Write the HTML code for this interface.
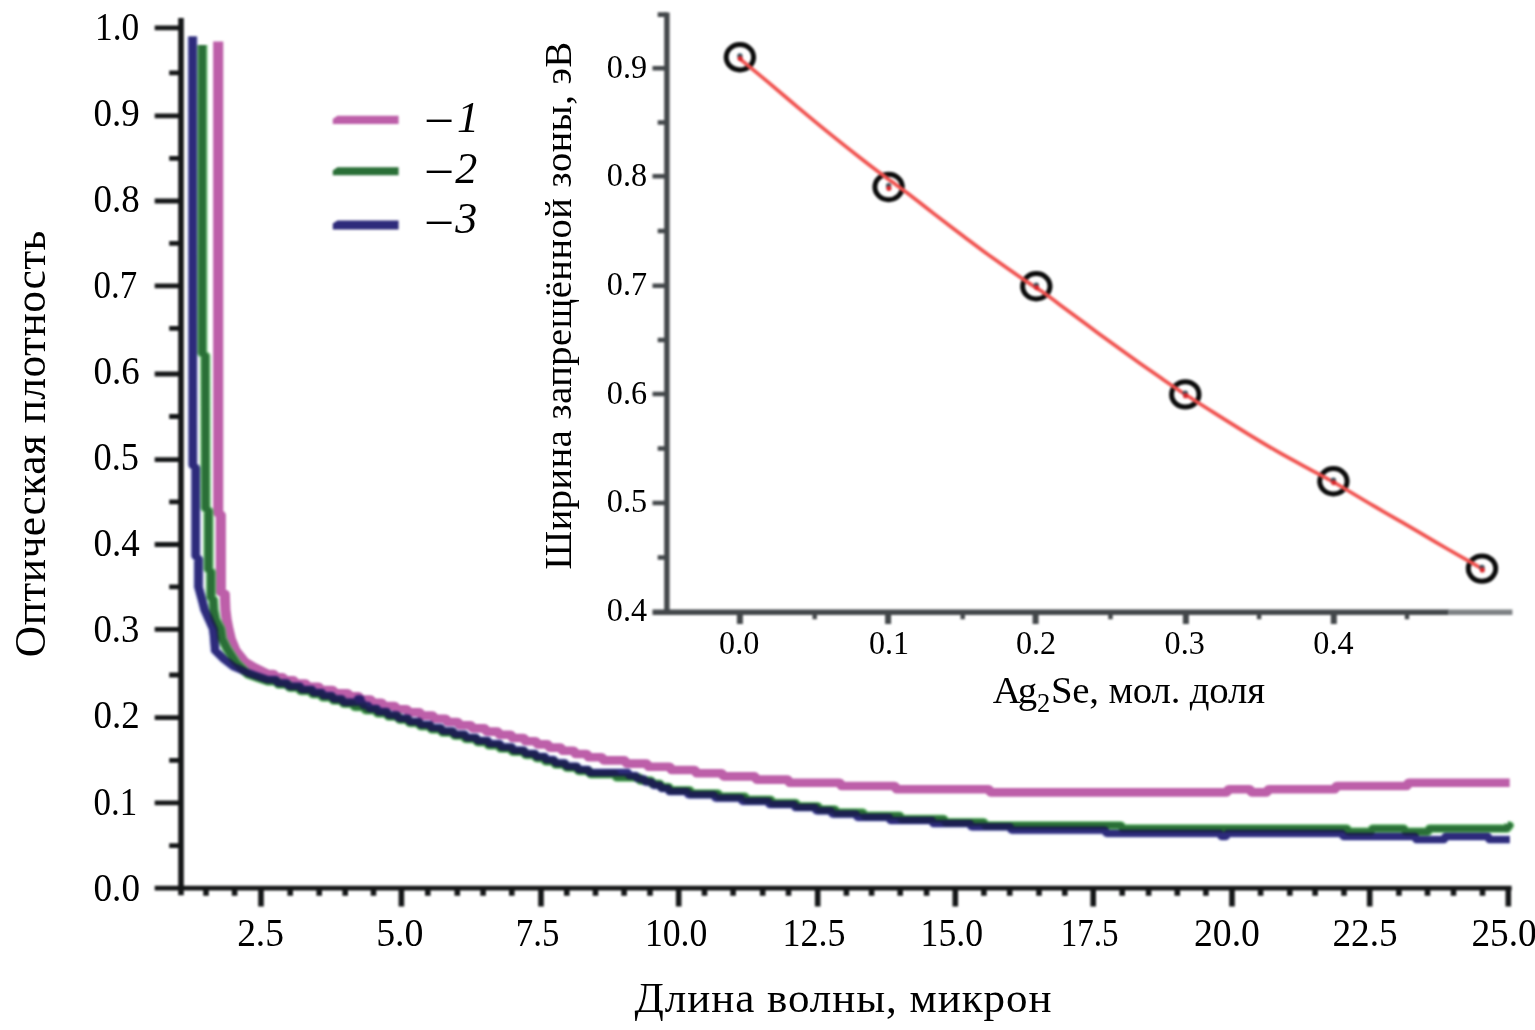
<!DOCTYPE html>
<html lang="ru">
<head>
<meta charset="utf-8">
<title>Оптическая плотность — длина волны</title>
<style>
html,body{margin:0;padding:0;background:#fff;}
body{width:1535px;height:1030px;overflow:hidden;}
svg{display:block;}
text{font-family:'Liberation Serif', 'DejaVu Serif', serif;fill:#000;}
</style>
</head>
<body>
<svg width="1535" height="1030" viewBox="0 0 1535 1030">
<defs>
<filter id="soft" x="-5%" y="-5%" width="110%" height="110%" color-interpolation-filters="sRGB"><feGaussianBlur stdDeviation="0.9"/></filter>
<filter id="soft2" x="-5%" y="-5%" width="110%" height="110%" color-interpolation-filters="sRGB"><feGaussianBlur stdDeviation="0.7"/></filter>
</defs>
<rect width="1535" height="1030" fill="#fff"/>
<g filter="url(#soft)">
<g fill="none" stroke-linejoin="round" stroke-linecap="butt" transform="scale(1.18 1)">
<polyline points="184.92,41.5 184.92,513 187.12,515 187.12,592 190.51,594 190.68,600 191.02,609.7 192.03,619.4 193.64,629.1 195.76,639.5 199.66,650.5 207.12,661.5 214.49,666.8 226.86,674 231.69,674 233.9,677.2 239.32,677.2 241.53,680.4 248.64,680.4 250.85,683.6 258.81,683.6 261.02,686.8 269.83,686.8 272.03,690 281.69,690 283.9,693.2 294.41,693.2 296.61,696.4 303.73,696.4 305.93,699.6 313.9,699.6 316.1,702.8 323.22,702.8 325.42,706 334.24,706 336.44,709.2 344.41,709.2 346.61,712.4 355.42,712.4 357.63,715.6 366.44,715.6 368.64,718.8 377.46,718.8 379.66,722 387.63,722 389.83,725.2 398.64,725.2 400.85,728.4 410.51,728.4 412.71,731.6 421.53,731.6 423.73,734.8 432.54,734.8 434.75,738 443.56,738 445.76,741.2 453.73,741.2 455.93,744.4 463.9,744.4 466.1,747.6 474.92,747.6 477.12,750.8 485.93,750.8 488.14,754 496.95,754 499.15,757.2 509.66,757.2 511.86,760.4 529.15,760.4 531.36,763.6 547.8,763.6 550,766.8 567.29,766.8 569.49,770 588.47,770 590.68,773.2 611.36,773.2 613.56,776.4 639.32,776.4 641.53,779.6 667.29,779.6 669.49,782.8 711.36,782.8 713.56,786 757.97,786 760.17,789.2 837.63,789.2 839.83,792.4 1039.32,792.4 1041.53,789.2 1058.81,789.2 1061.02,792.4 1073.22,792.4 1075.42,789.2 1130.85,789.2 1133.05,786 1191.86,786 1194.07,782.8 1279.41,782.8" stroke="#bd5fa9" stroke-width="8.6"/>
<polyline points="171.44,45 171.44,353 173.98,356 174.24,508 176.69,511 176.69,569 178.81,572 178.81,597 180.76,600 181.19,609.7 182.8,619.4 186.95,629.1 188.14,638.8 192.29,648.5 200,662.5 210.42,674.6 226.86,681.4 234.24,681.4 236.44,684.6 243.56,684.6 245.76,687.8 252.88,687.8 255.08,691 263.05,691 265.25,694.2 271.53,694.2 273.73,697.4 280.85,697.4 283.05,700.6 289.32,700.6 291.53,703.8 298.64,703.8 300.85,707 307.97,707 310.17,710.2 318.14,710.2 320.34,713.4 327.46,713.4 329.66,716.6 336.78,716.6 338.98,719.8 345.25,719.8 347.46,723 354.58,723 356.78,726.2 363.9,726.2 366.1,729.4 373.22,729.4 375.42,732.6 383.39,732.6 385.59,735.8 392.71,735.8 394.92,739 402.88,739 405.08,742.2 412.2,742.2 414.41,745.4 422.37,745.4 424.58,748.6 432.54,748.6 434.75,751.8 443.56,751.8 445.76,755 452.88,755 455.08,758.2 460.51,758.2 462.71,761.4 468.98,761.4 471.19,764.6 478.31,764.6 480.51,767.8 488.47,767.8 490.68,771 498.64,771 500.85,774.2 520.68,774.2 522.88,777.4 541.02,777.4 543.22,780.6 551.19,780.6 553.39,783.8 558.81,783.8 561.02,787 566.44,787 568.64,790.2 584.24,790.2 586.44,793.4 607.97,793.4 610.17,796.6 630.85,796.6 633.05,799.8 652.88,799.8 655.08,803 674.07,803 676.27,806.2 692.71,806.2 694.92,809.4 707.12,809.4 709.32,812.6 730.85,812.6 733.05,815.8 762.2,815.8 764.41,819 799.49,819 801.69,822.2 833.39,822.2 835.59,825.4 949.49,825.4 951.69,828.6 1141.02,828.6 1143.22,831.8 1161.36,831.8 1163.56,828.6 1189.32,828.6 1191.53,831.8 1209.66,831.8 1211.86,828.6 1276.61,828.6 1278.81,825.4 1277.71,825.4" stroke="#4db356" stroke-width="9" opacity="0.75"/>
<polyline points="171.44,45 171.44,353 173.98,356 174.24,508 176.69,511 176.69,569 178.81,572 178.81,597 180.76,600 181.19,609.7 182.8,619.4 186.95,629.1 188.14,638.8 192.29,648.5 200,662.5 210.42,674.6 226.86,681.4 234.24,681.4 236.44,684.6 243.56,684.6 245.76,687.8 252.88,687.8 255.08,691 263.05,691 265.25,694.2 271.53,694.2 273.73,697.4 280.85,697.4 283.05,700.6 289.32,700.6 291.53,703.8 298.64,703.8 300.85,707 307.97,707 310.17,710.2 318.14,710.2 320.34,713.4 327.46,713.4 329.66,716.6 336.78,716.6 338.98,719.8 345.25,719.8 347.46,723 354.58,723 356.78,726.2 363.9,726.2 366.1,729.4 373.22,729.4 375.42,732.6 383.39,732.6 385.59,735.8 392.71,735.8 394.92,739 402.88,739 405.08,742.2 412.2,742.2 414.41,745.4 422.37,745.4 424.58,748.6 432.54,748.6 434.75,751.8 443.56,751.8 445.76,755 452.88,755 455.08,758.2 460.51,758.2 462.71,761.4 468.98,761.4 471.19,764.6 478.31,764.6 480.51,767.8 488.47,767.8 490.68,771 498.64,771 500.85,774.2 520.68,774.2 522.88,777.4 541.02,777.4 543.22,780.6 551.19,780.6 553.39,783.8 558.81,783.8 561.02,787 566.44,787 568.64,790.2 584.24,790.2 586.44,793.4 607.97,793.4 610.17,796.6 630.85,796.6 633.05,799.8 652.88,799.8 655.08,803 674.07,803 676.27,806.2 692.71,806.2 694.92,809.4 707.12,809.4 709.32,812.6 730.85,812.6 733.05,815.8 762.2,815.8 764.41,819 799.49,819 801.69,822.2 833.39,822.2 835.59,825.4 949.49,825.4 951.69,828.6 1141.02,828.6 1143.22,831.8 1161.36,831.8 1163.56,828.6 1189.32,828.6 1191.53,831.8 1209.66,831.8 1211.86,828.6 1276.61,828.6 1278.81,825.4 1277.71,825.4" stroke="#2a6f37" stroke-width="6.4"/>
<g style="mix-blend-mode:multiply"><polyline points="163.22,36.5 163.39,465 165.85,468 165.85,556 168.22,559 168.22,587 171.27,600 173.39,609.7 177.03,619.4 180.76,629.1 181.61,638.8 182.37,650.5 189.83,659.3 198.05,666.8 210.42,673 226.86,679.7 233.39,679.7 235.59,682.9 242.71,682.9 244.92,686.1 253.73,686.1 255.93,689.3 263.9,689.3 266.1,692.5 272.37,692.5 274.58,695.7 280.85,695.7 283.05,698.9 289.32,698.9 291.53,702.1 302.88,702.1 305.08,698.9 303.73,698.9 305.93,702.1 306.27,702.1 308.47,705.3 311.36,705.3 313.56,708.5 318.98,708.5 321.19,711.7 327.46,711.7 329.66,714.9 335.93,714.9 338.14,718.1 345.25,718.1 347.46,721.3 354.58,721.3 356.78,724.5 363.9,724.5 366.1,727.7 373.22,727.7 375.42,730.9 383.39,730.9 385.59,734.1 393.56,734.1 395.76,737.3 402.88,737.3 405.08,740.5 413.05,740.5 415.25,743.7 423.22,743.7 425.42,746.9 433.39,746.9 435.59,750.1 443.56,750.1 445.76,753.3 452.88,753.3 455.08,756.5 461.36,756.5 463.56,759.7 468.98,759.7 471.19,762.9 478.31,762.9 480.51,766.1 488.47,766.1 490.68,769.3 497.8,769.3 500,772.5 531.69,772.5 533.9,775.7 538.47,775.7 540.68,778.9 545.25,778.9 547.46,782.1 552.03,782.1 554.24,785.3 558.81,785.3 561.02,788.5 565.59,788.5 567.8,791.7 581.69,791.7 583.9,794.9 604.58,794.9 606.78,798.1 627.46,798.1 629.66,801.3 650.34,801.3 652.54,804.5 672.37,804.5 674.58,807.7 690.17,807.7 692.37,810.9 703.73,810.9 705.93,814.1 724.92,814.1 727.12,817.3 752.88,817.3 755.08,820.5 789.32,820.5 791.53,823.7 821.53,823.7 823.73,826.9 855.42,826.9 857.63,830.1 935.93,830.1 938.14,833.3 1033.39,833.3 1035.59,836.5 1038.47,836.5 1040.68,833.3 1136.78,833.3 1138.98,836.5 1198.64,836.5 1200.85,839.7 1223.22,839.7 1225.42,836.5 1260.51,836.5 1262.71,839.7 1279.41,839.7" stroke="#8a93d6" stroke-width="9.2" opacity="0.5"/>
<polyline points="163.22,36.5 163.39,465 165.85,468 165.85,556 168.22,559 168.22,587 171.27,600 173.39,609.7 177.03,619.4 180.76,629.1 181.61,638.8 182.37,650.5 189.83,659.3 198.05,666.8 210.42,673 226.86,679.7 233.39,679.7 235.59,682.9 242.71,682.9 244.92,686.1 253.73,686.1 255.93,689.3 263.9,689.3 266.1,692.5 272.37,692.5 274.58,695.7 280.85,695.7 283.05,698.9 289.32,698.9 291.53,702.1 302.88,702.1 305.08,698.9 303.73,698.9 305.93,702.1 306.27,702.1 308.47,705.3 311.36,705.3 313.56,708.5 318.98,708.5 321.19,711.7 327.46,711.7 329.66,714.9 335.93,714.9 338.14,718.1 345.25,718.1 347.46,721.3 354.58,721.3 356.78,724.5 363.9,724.5 366.1,727.7 373.22,727.7 375.42,730.9 383.39,730.9 385.59,734.1 393.56,734.1 395.76,737.3 402.88,737.3 405.08,740.5 413.05,740.5 415.25,743.7 423.22,743.7 425.42,746.9 433.39,746.9 435.59,750.1 443.56,750.1 445.76,753.3 452.88,753.3 455.08,756.5 461.36,756.5 463.56,759.7 468.98,759.7 471.19,762.9 478.31,762.9 480.51,766.1 488.47,766.1 490.68,769.3 497.8,769.3 500,772.5 531.69,772.5 533.9,775.7 538.47,775.7 540.68,778.9 545.25,778.9 547.46,782.1 552.03,782.1 554.24,785.3 558.81,785.3 561.02,788.5 565.59,788.5 567.8,791.7 581.69,791.7 583.9,794.9 604.58,794.9 606.78,798.1 627.46,798.1 629.66,801.3 650.34,801.3 652.54,804.5 672.37,804.5 674.58,807.7 690.17,807.7 692.37,810.9 703.73,810.9 705.93,814.1 724.92,814.1 727.12,817.3 752.88,817.3 755.08,820.5 789.32,820.5 791.53,823.7 821.53,823.7 823.73,826.9 855.42,826.9 857.63,830.1 935.93,830.1 938.14,833.3 1033.39,833.3 1035.59,836.5 1038.47,836.5 1040.68,833.3 1136.78,833.3 1138.98,836.5 1198.64,836.5 1200.85,839.7 1223.22,839.7 1225.42,836.5 1260.51,836.5 1262.71,839.7 1279.41,839.7" stroke="#2e2b7b" stroke-width="6.8"/></g>
<polyline points="163.22,36.5 163.39,465 165.85,468 165.85,556 168.22,559 168.22,587 171.27,600 173.39,609.7 177.03,619.4 180.76,629.1 181.61,638.8 182.37,650.5 189.83,659.3 198.05,666.8 210.42,673 226.86,679.7 233.39,679.7 235.59,682.9 242.71,682.9 244.92,686.1 253.73,686.1 255.93,689.3 263.9,689.3 266.1,692.5 272.37,692.5 274.58,695.7 280.85,695.7 283.05,698.9 289.32,698.9 291.53,702.1 302.88,702.1 305.08,698.9 303.73,698.9 305.93,702.1 306.27,702.1 308.47,705.3 311.36,705.3 313.56,708.5 318.98,708.5 321.19,711.7 327.46,711.7 329.66,714.9 335.93,714.9 338.14,718.1 345.25,718.1 347.46,721.3 354.58,721.3 356.78,724.5 363.9,724.5 366.1,727.7 373.22,727.7 375.42,730.9 383.39,730.9 385.59,734.1 393.56,734.1 395.76,737.3 402.88,737.3 405.08,740.5 413.05,740.5 415.25,743.7 423.22,743.7 425.42,746.9 433.39,746.9 435.59,750.1 443.56,750.1 445.76,753.3 452.88,753.3 455.08,756.5 461.36,756.5 463.56,759.7 468.98,759.7 471.19,762.9 478.31,762.9 480.51,766.1 488.47,766.1 490.68,769.3 497.8,769.3 500,772.5 531.69,772.5 533.9,775.7 538.47,775.7 540.68,778.9 545.25,778.9 547.46,782.1 552.03,782.1 554.24,785.3 558.81,785.3 561.02,788.5 565.59,788.5 567.8,791.7 581.69,791.7 583.9,794.9 604.58,794.9 606.78,798.1 627.46,798.1 629.66,801.3 650.34,801.3 652.54,804.5 672.37,804.5 674.58,807.7 690.17,807.7 692.37,810.9 703.73,810.9 705.93,814.1 724.92,814.1 727.12,817.3 752.88,817.3 755.08,820.5 789.32,820.5 791.53,823.7 821.53,823.7 823.73,826.9 855.42,826.9 857.63,830.1 935.93,830.1 938.14,833.3 1033.39,833.3 1035.59,836.5 1038.47,836.5 1040.68,833.3 1136.78,833.3 1138.98,836.5 1198.64,836.5 1200.85,839.7 1223.22,839.7 1225.42,836.5 1260.51,836.5 1262.71,839.7 1279.41,839.7" stroke="#2e2b7b" stroke-width="6.8" opacity="0.55"/>
</g>
<g>
<path d="M332.8 124.1V118.9L337.5 115.7H398.6V124.1Z" fill="#bd5fa9" stroke="none"/>
<path d="M332.8 175.2V170.4L337.5 167.2H398.6V175.2Z" fill="#2a6f37" stroke="none"/>
<path d="M332.8 229.4V223.6L337.5 220.4H398.6V229.4Z" fill="#2e2b7b" stroke="none"/>
</g>
<g fill="none" stroke="#141617">
<path stroke-width="5.6" d="M181 18V895.2" />
<path stroke-width="4.8" d="M154.7 888.2H1511.6" />
<path stroke-width="4.8" d="M154.7 27.8H181M154.7 115.9H181M154.7 201H181M154.7 285.8H181M154.7 374H181M154.7 459.6H181M154.7 544.5H181M154.7 629.4H181M154.7 717.6H181M154.7 802.8H181M169.2 72.9H181M169.2 158.3H181M169.2 243.4H181M169.2 328.3H181M169.2 416.5H181M169.2 501.8H181M169.2 586.9H181M169.2 675H181M169.2 760.3H181M169.2 845.6H181" />
<path stroke-width="5.6" d="M261 888.2V906.4M401.4 888.2V906.4M541 888.2V906.4M678.7 888.2V906.4M817.7 888.2V906.4M955.3 888.2V906.4M1093.2 888.2V906.4M1232 888.2V906.4M1369.7 888.2V906.4M1508.3 888.2V906.4M206 888.2V895.8M234.6 888.2V895.8M290.2 888.2V895.8M319.2 888.2V895.8M345.2 888.2V895.8M373.5 888.2V895.8M427.8 888.2V895.8M457.3 888.2V895.8M483.1 888.2V895.8M511.8 888.2V895.8M566.8 888.2V895.8M595.5 888.2V895.8M624.1 888.2V895.8M650 888.2V895.8M704.5 888.2V895.8M733.1 888.2V895.8M762.7 888.2V895.8M788.5 888.2V895.8M846.4 888.2V895.8M871.6 888.2V895.8M900.2 888.2V895.8M926.6 888.2V895.8M983.9 888.2V895.8M1009.7 888.2V895.8M1039 888.2V895.8M1064.8 888.2V895.8M1122.2 888.2V895.8M1148.6 888.2V895.8M1177.3 888.2V895.8M1205.9 888.2V895.8M1260.6 888.2V895.8M1289.8 888.2V895.8M1315.1 888.2V895.8M1344 888.2V895.8M1398.9 888.2V895.8M1427.5 888.2V895.8M1453.5 888.2V895.8M1482.5 888.2V895.8" />
</g>
<g fill="none" stroke="#43474a" filter="url(#soft2)">
<path stroke-width="5.4" d="M666.9 12.4V614.8" />
<path stroke-width="5.4" d="M652.5 612.2H1449" />
<path stroke-width="5.4" stroke="#7d8184" d="M1448 612.2H1512.4" />
<path stroke-width="4.6" d="M652.5 68.2H666.9M652.5 176.3H666.9M652.5 285.7H666.9M652.5 394H666.9M652.5 503H666.9M657.7 14.6H666.9M657.7 122.5H666.9M657.7 231H666.9M657.7 340H666.9M657.7 448.5H666.9M657.7 557.5H666.9" />
<path stroke-width="6" d="M739.9 612.2V624M888.1 612.2V624M1035.6 612.2V624M1185.9 612.2V624M1333.8 612.2V624" />
<path stroke-width="4.4" d="M814.7 612.2V619.2M962.7 612.2V619.2M1110.5 612.2V619.2M1259.1 612.2V619.2M1407 612.2V619.2" />
</g>
<g fill="none" stroke="#0a0a0a" stroke-width="5"><ellipse cx="739.9" cy="57.2" rx="13.7" ry="12.7"/><ellipse cx="888.6" cy="187" rx="13.7" ry="12.7"/><ellipse cx="1036.3" cy="286.3" rx="13.7" ry="12.7"/><ellipse cx="1185.3" cy="394.4" rx="13.7" ry="12.7"/><ellipse cx="1333.4" cy="481.3" rx="13.7" ry="12.7"/><ellipse cx="1482" cy="568.6" rx="13.7" ry="12.7"/></g>
<path d="M739.6 58.6C744.15 62.37 757.13 73.03 766.9 81.2C776.67 89.37 787.78 98.9 798.2 107.6C808.62 116.3 818.98 124.95 829.4 133.4C839.82 141.85 852.88 152.15 860.7 158.3C868.52 164.45 871.08 166.38 876.3 170.3C881.52 174.22 886.78 177.98 892 181.8C897.22 185.62 900.85 188.07 907.6 193.2C914.35 198.33 923.13 205.4 932.5 212.6C941.87 219.8 953.38 228.57 963.8 236.4C974.22 244.23 984.58 252.1 995 259.6C1005.42 267.1 1018.47 276.07 1026.3 281.4C1034.13 286.73 1035.23 286.85 1042 291.6C1048.77 296.35 1057.53 302.97 1066.9 309.9C1076.27 316.83 1087.78 325.55 1098.2 333.2C1108.62 340.85 1118.98 348.37 1129.4 355.8C1139.82 363.23 1151.43 371.38 1160.7 377.8C1169.97 384.22 1175.63 388.17 1185 394.3C1194.37 400.43 1206.37 407.97 1216.9 414.6C1227.43 421.23 1237.78 427.75 1248.2 434.1C1258.62 440.45 1268.98 446.75 1279.4 452.7C1289.82 458.65 1301.7 464.92 1310.7 469.8C1319.7 474.68 1322.98 476.02 1333.4 482C1343.82 487.98 1361.37 498.75 1373.2 505.7C1385.03 512.65 1393.98 517.63 1404.4 523.7C1414.82 529.77 1425.27 536.02 1435.7 542.1C1446.13 548.18 1459.37 555.83 1467 560.2C1474.63 564.57 1479.08 566.95 1481.5 568.3" fill="none" stroke="#f0504d" stroke-width="3.7" stroke-linecap="round"/>
<g><circle cx="739.9" cy="56" r="2.7" fill="#35505c"/><circle cx="740.2" cy="58.5" r="2.6" fill="#d8262a"/><circle cx="888.6" cy="185.8" r="2.7" fill="#35505c"/><circle cx="888.9" cy="188.3" r="2.6" fill="#d8262a"/><circle cx="1036.3" cy="285.1" r="2.7" fill="#35505c"/><circle cx="1036.6" cy="287.6" r="2.6" fill="#d8262a"/><circle cx="1185.3" cy="393.2" r="2.7" fill="#35505c"/><circle cx="1185.6" cy="395.7" r="2.6" fill="#d8262a"/><circle cx="1333.4" cy="480.1" r="2.7" fill="#35505c"/><circle cx="1333.7" cy="482.6" r="2.6" fill="#d8262a"/><circle cx="1482" cy="567.4" r="2.7" fill="#35505c"/><circle cx="1482.3" cy="569.9" r="2.6" fill="#d8262a"/></g>
</g>
<g>
<text transform="translate(44.5 657.2) rotate(-90)" font-size="43.5" text-anchor="start" letter-spacing="0.42">Оптическая плотность</text>
<text transform="translate(634.5 1012)" font-size="43" text-anchor="start" letter-spacing="0.97">Длина волны, микрон</text>
<text transform="translate(570.6 569.5) rotate(-90)" font-size="38.3" text-anchor="start" letter-spacing="0.59">Ширина запрещённой зоны, эВ</text>
<text transform="translate(94.93 39.5) scale(0.8769 1)" font-size="40.4" text-anchor="start">1.0</text>
<text transform="translate(93.53 125.6) scale(0.915 1)" font-size="40.4" text-anchor="start">0.9</text>
<text transform="translate(93.53 211.7) scale(0.915 1)" font-size="40.4" text-anchor="start">0.8</text>
<text transform="translate(93.51 297.8) scale(0.8625 1)" font-size="40.4" text-anchor="start">0.7</text>
<text transform="translate(93.53 383.9) scale(0.915 1)" font-size="40.4" text-anchor="start">0.6</text>
<text transform="translate(93.55 470) scale(0.9011 1)" font-size="40.4" text-anchor="start">0.5</text>
<text transform="translate(93.53 556.2) scale(0.915 1)" font-size="40.4" text-anchor="start">0.4</text>
<text transform="translate(93.44 642.3) scale(0.9095 1)" font-size="40.4" text-anchor="start">0.3</text>
<text transform="translate(93.53 728.4) scale(0.915 1)" font-size="40.4" text-anchor="start">0.2</text>
<text transform="translate(93.5 814.5) scale(0.8645 1)" font-size="40.4" text-anchor="start">0.1</text>
<text transform="translate(93.52 900.6) scale(0.92 1)" font-size="40.4" text-anchor="start">0.0</text>
<text transform="translate(237.14 946) scale(0.9277 1)" font-size="40.4" text-anchor="start">2.5</text>
<text transform="translate(376.16 946) scale(0.9376 1)" font-size="40.4" text-anchor="start">5.0</text>
<text transform="translate(515.84 946) scale(0.8645 1)" font-size="40.4" text-anchor="start">7.5</text>
<text transform="translate(644.91 946) scale(0.884 1)" font-size="40.4" text-anchor="start">10.0</text>
<text transform="translate(782.48 946) scale(0.8916 1)" font-size="40.4" text-anchor="start">12.5</text>
<text transform="translate(920.61 946) scale(0.884 1)" font-size="40.4" text-anchor="start">15.0</text>
<text transform="translate(1060.74 946) scale(0.8183 1)" font-size="40.4" text-anchor="start">17.5</text>
<text transform="translate(1194.03 946) scale(0.9328 1)" font-size="40.4" text-anchor="start">20.0</text>
<text transform="translate(1332.46 946) scale(0.9209 1)" font-size="40.4" text-anchor="start">22.5</text>
<text transform="translate(1471.4 946) scale(0.9246 1)" font-size="40.4" text-anchor="start">25.0</text>
<text transform="translate(606.82 77.6) scale(0.975 1)" font-size="33" text-anchor="start">0.9</text>
<text transform="translate(606.82 186.3) scale(0.975 1)" font-size="33" text-anchor="start">0.8</text>
<text transform="translate(606.82 295) scale(0.975 1)" font-size="33" text-anchor="start">0.7</text>
<text transform="translate(606.82 403.6) scale(0.975 1)" font-size="33" text-anchor="start">0.6</text>
<text transform="translate(606.82 512.3) scale(0.975 1)" font-size="33" text-anchor="start">0.5</text>
<text transform="translate(606.82 621) scale(0.975 1)" font-size="33" text-anchor="start">0.4</text>
<text transform="translate(719.12 654) scale(0.975 1)" font-size="33" text-anchor="start">0.0</text>
<text transform="translate(868.92 654) scale(0.975 1)" font-size="33" text-anchor="start">0.1</text>
<text transform="translate(1015.92 654) scale(0.975 1)" font-size="33" text-anchor="start">0.2</text>
<text transform="translate(1164.62 654) scale(0.975 1)" font-size="33" text-anchor="start">0.3</text>
<text transform="translate(1313.32 654) scale(0.975 1)" font-size="33" text-anchor="start">0.4</text>
<text y="131.6" font-size="44" font-style="italic"><tspan x="427.1" dy="0.5" font-size="48.5">–</tspan><tspan x="456.9" dy="-0.5">1</tspan></text>
<text y="182.9" font-size="44" font-style="italic"><tspan x="427.1" dy="0.5" font-size="48.5">–</tspan><tspan x="455.3" dy="-0.5">2</tspan></text>
<text y="233" font-size="44" font-style="italic"><tspan x="427.1" dy="0.5" font-size="48.5">–</tspan><tspan x="455.3" dy="-0.5">3</tspan></text>
<text y="702.8" font-size="38.8"><tspan x="992.7" letter-spacing="-3">Ag</tspan><tspan x="1037" dy="8.8" font-size="26.5">2</tspan><tspan x="1050.9" dy="-8.8" letter-spacing="-0.17">Se, мол. доля</tspan></text>
</g>
</svg>
</body>
</html>
